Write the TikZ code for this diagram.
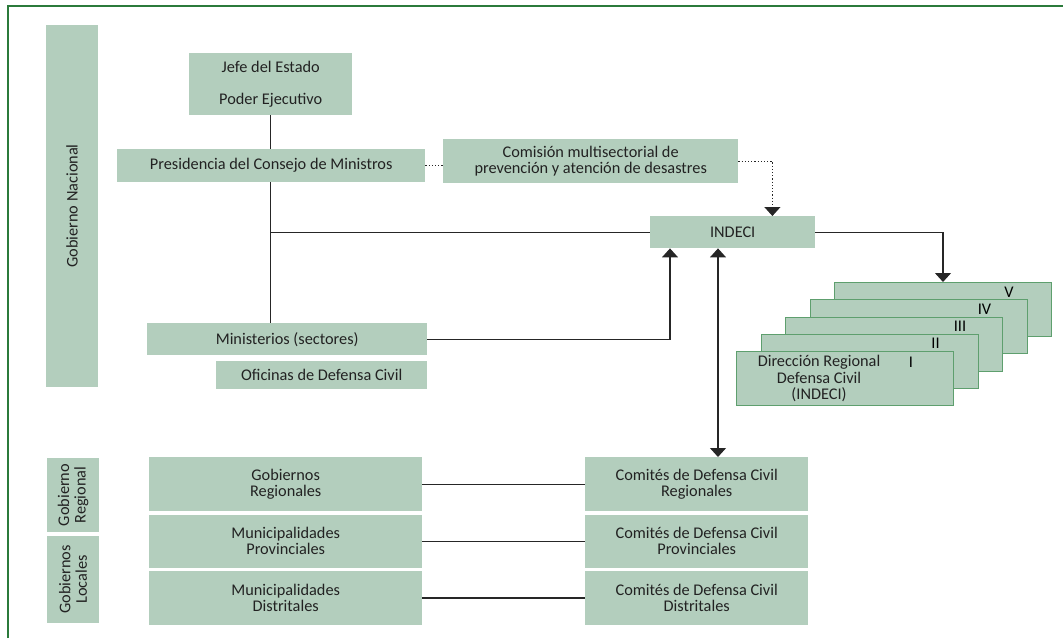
\documentclass[tikz,border=0pt]{standalone}
\usepackage{fontspec}
\setmainfont{Carlito}
\usetikzlibrary{positioning, arrows.meta}
\definecolor{boxgreen}{HTML}{B3CEBD}
\definecolor{framegreen}{HTML}{2B7A3B}
\definecolor{edgegreen}{HTML}{5E9F6E}
\definecolor{inkgray}{HTML}{222222}

\begin{document}
\begin{tikzpicture}[
          x=1pt, y=-1pt,
          font=\fontsize{16.3}{16.5}\selectfont,
          box/.style={
              rectangle, fill=boxgreen, inner sep=0pt, align=center,
              anchor=north west, text=inkgray
          },
          dirbox/.style={
              box, draw=edgegreen, line width=1pt,
              minimum width=217pt, minimum height=54pt
          },
          link/.style={line width=1.2pt, draw=black!85},
          >={Triangle[width=16pt,length=9pt]},
      ]
          \useasboundingbox (0,0) rectangle (1063,638);
          \draw [framegreen, line width=1.5pt] (8,638) -- (8,6) -- (1063,6);

          % Gobierno nacional
          \node [box, rotate=90, anchor=center, minimum width=362pt, minimum height=52pt] (nacional) at (72,206) {Gobierno Nacional};
          \node [box, minimum width=163pt, minimum height=62pt] (jefe) at (189,53) {Jefe del Estado\\[15pt]Poder Ejecutivo};
          \node [box, minimum width=308pt, minimum height=33pt] (presidencia) at (117,149) {Presidencia del Consejo de Ministros};
          \node [box, minimum width=295pt, minimum height=44pt] (comision) at (443,139) {Comisión multisectorial de\\prevención y atención de desastres};
          \node [box, minimum width=165pt, minimum height=32pt] (indeci) at (650,216) {INDECI};
          \node [box, minimum width=280pt, minimum height=32pt] (ministerios) at (147,323) {Ministerios (sectores)};
          \node [box, below left=5pt and 0pt of ministerios.south east, minimum width=211pt, minimum height=28pt] (oficinas) {Oficinas de Defensa Civil};

          % Direcciones regionales
          \foreach \i/\num in {4/V, 3/IV, 2/III, 1/II}
              \node [dirbox, label={[anchor=center, xshift=-43pt, yshift=-10pt]north east:\num}] (dir\num) at (736+24.5*\i, 351-17.25*\i) {};
          \node [dirbox, label={[anchor=center, xshift=-43pt, yshift=-11pt]north east:I}] (dirI) at (736,351) {};
          \node [align=center, text=inkgray] (dirItext) at ([xshift=83pt]dirI.west) {Dirección Regional\\Defensa Civil\\(INDECI)};

          % Gobiernos regional y locales
          \node [box, rotate=90, anchor=center, minimum width=74pt, minimum height=52pt] (regional) at (73,495) {Gobierno\\Regional};
          \node [box, rotate=90, anchor=center, minimum width=87pt, minimum height=52pt] (locales) at (73,579.5) {Gobiernos\\Locales};
          \node [box, minimum width=273pt, minimum height=54pt] (gobreg) at (149,457) {Gobiernos\\Regionales};
          \node [box, below=3pt of gobreg, minimum width=273pt, minimum height=53pt] (munprov) {Municipalidades\\Provinciales};
          \node [box, below=3pt of munprov, minimum width=273pt, minimum height=54pt] (mundist) {Municipalidades\\Distritales};
          \node [box, minimum width=223pt, minimum height=54pt] (comreg) at (585,457) {Comités de Defensa Civil\\Regionales};
          \node [box, below=3pt of comreg, minimum width=223pt, minimum height=53pt] (comprov) {Comités de Defensa Civil\\Provinciales};
          \node [box, below=3pt of comprov, minimum width=223pt, minimum height=54pt] (comdist) {Comités de Defensa Civil\\Distritales};

          % Arrows
          \draw [link] (jefe.south) -- (presidencia.north -| jefe.south);
          \draw [link] (presidencia.south -| jefe.south) -- (ministerios.north -| jefe.south);
          \draw [link] (indeci.west -| jefe.south) -- (indeci.west);
          \draw [link, dotted] (presidencia.east) -- (presidencia.east -| comision.west);
          \draw [link, dotted, ->] (comision.east) -| ([xshift=-43pt]indeci.north east);
          \draw [link, ->] (ministerios.east) -| ([xshift=20pt]indeci.south west);
          \draw [link, <->] ([xshift=68pt]indeci.south west) -- ([xshift=68pt]indeci.south west |- comreg.north);
          \draw [link, ->] (indeci.east) -| (dirV.north);

          \draw [link] (gobreg.east) -- (comreg.west);
          \draw [link] (munprov.east) -- (comprov.west);
          \draw [link] (mundist.east) -- (comdist.west);
        \end{tikzpicture}
\end{document}
